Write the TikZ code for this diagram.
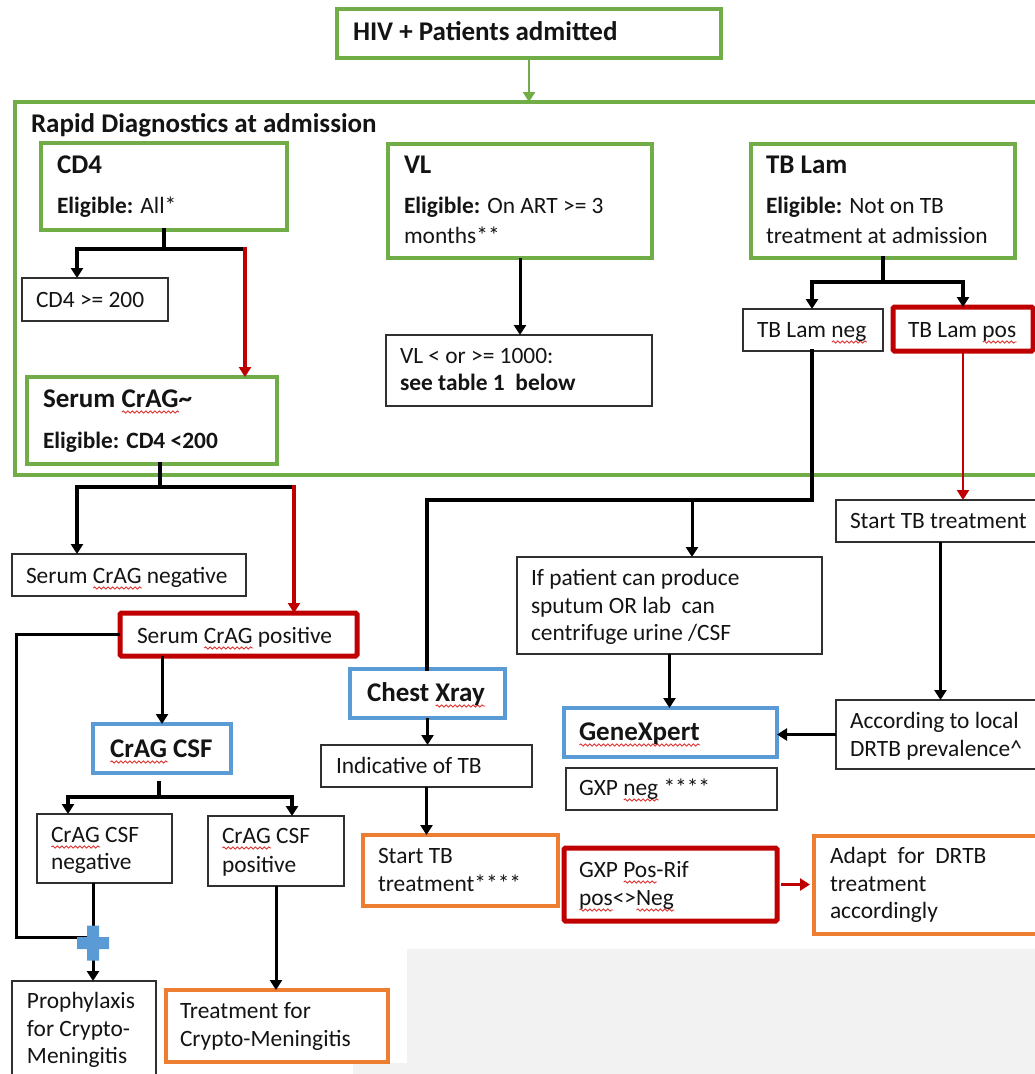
\documentclass[tikz,border=0pt]{standalone}
\usepackage{fontspec}
\setmainfont{Carlito}
\usetikzlibrary{arrows.meta,decorations.pathmorphing}
\definecolor{cgreen}{HTML}{70AD47}
\definecolor{cblue}{HTML}{5B9BD5}
\definecolor{cred}{HTML}{C00000}
\definecolor{cwavy}{HTML}{E03030}
\definecolor{corange}{HTML}{ED7D31}
\definecolor{cgray}{HTML}{F2F2F2}
\definecolor{cdark}{HTML}{303030}
\definecolor{ctext}{HTML}{141414}
\newcommand\bx[6]{\node[#6, minimum width={#4-#2}, minimum height={#5-#3}, anchor=north west] (#1) at (#2,#3) {};}
\newlength\sqw
\newcommand\sq[1]{\settowidth\sqw{#1}\leavevmode\rlap{\tikz[x=1pt,y=1pt,baseline=0pt]{\draw[cwavy, line width=0.9pt, decorate, decoration={snake, amplitude=1.1pt, segment length=4.5pt}] (0,-5) -- (\sqw,-5);}}#1}
\tikzset{
  boxbase/.style={inner sep=0pt, outer sep=0pt},
  gbox/.style={boxbase, draw=cgreen, line width=3.4pt},
  bbox/.style={boxbase, draw=cblue, line width=4.5pt},
  rbox/.style={boxbase, draw=cred, line width=5pt, rounded corners=1.5pt},
  obox/.style={boxbase, draw=corange, line width=4pt},
  kbox/.style={boxbase, draw=cdark, line width=1.8pt},
  txt/.style={anchor=base west, inner sep=0pt, outer sep=0pt, font=\fontsize{23.4}{28}\selectfont, text=ctext},
  hd/.style={txt, font=\bfseries\fontsize{27}{32}\selectfont},
  kline/.style={draw=black, line width=4pt, line cap=rect},
  tline/.style={draw=black, line width=3pt},
  gline/.style={draw=cgreen, line width=2.8pt},
  rline/.style={draw=cred, line width=3.8pt, line cap=rect},
  rthin/.style={draw=cred, line width=2.3pt},
  tip/.style={-{Triangle[length=10pt,width=12pt]}},
  tips/.style={{Triangle[length=10pt,width=12pt]}-{Triangle[length=10pt,width=12pt]}},
}
\begin{document}
\begin{tikzpicture}[x=1pt,y=-1pt]
\clip (0,0) rectangle (1035,1074);
\fill[white] (0,0) rectangle (1035,1074);
\fill[cgray] (407,949) -- (1035,949) -- (1035,1074) -- (353,1074) -- (353,1063) -- (407,1063) -- cycle;

% ---------- boxes ----------
\bx{hiv}{337}{9}{721}{58}{gbox}
\bx{rd}{15}{102}{1045}{475}{gbox}
\bx{cd4}{41}{143}{287}{230}{gbox}
\bx{vl}{388}{144}{652}{258}{gbox}
\bx{tbl}{751}{144}{1015}{258}{gbox}
\bx{cd4hi}{22}{278}{168}{321}{kbox}
\bx{scrag}{27}{377}{277}{464}{gbox}
\bx{vlr}{386}{335}{652}{406}{kbox}
\bx{tbneg}{743}{309}{883}{351}{kbox}
\bx{tbpos}{893}{307}{1033}{351}{rbox}
\bx{scneg}{12}{554}{246}{596}{kbox}
\bx{scpos}{120}{613}{357}{656}{rbox}
\bx{csf}{93}{724}{231}{773}{bbox}
\bx{csfneg}{37}{814}{172}{883}{kbox}
\bx{csfpos}{208}{816}{344}{886}{kbox}
\bx{proph}{12}{981}{156}{1090}{kbox}
\bx{treat}{166}{990}{388}{1062}{obox}
\bx{cxr}{350}{669}{505}{718}{bbox}
\bx{ind}{321}{745}{532}{787}{kbox}
\bx{stbA}{363}{835}{558}{906}{obox}
\bx{ifp}{517}{557}{822}{654}{kbox}
\bx{gx}{564}{708}{777}{757}{bbox}
\bx{gxneg}{566}{768}{777}{810}{kbox}
\bx{gxpos}{564}{848}{777}{921}{rbox}
\bx{adapt}{814}{836}{1045}{934}{obox}
\bx{stbB}{836}{500}{1045}{542}{kbox}
\bx{acc}{836}{700}{1045}{769}{kbox}

% ---------- connectors ----------
\draw[gline, tip] (hiv.south) -- (hiv.south |- rd.north);

\coordinate (c4L) at (77,249);
\coordinate (c4R) at (245,249);
\draw[kline] (cd4.south) -- (cd4.south |- c4L);
\draw[kline, tip] (c4R) -- (c4L) -- (c4L |- cd4hi.north);
\draw[rline, tip] (c4R) -- (c4R |- scrag.north);

\draw[tline, tip] (vl.south) -- (vl.south |- vlr.north);

\coordinate (tbL) at (812,282);
\coordinate (tbR) at (963,282);
\draw[kline] (tbl.south) -- (tbl.south |- tbL);
\draw[kline, tips] (tbL |- tbneg.north) -- (tbL) -- (tbR) -- (tbR |- tbpos.north);

\coordinate (scS) at (160,487);
\coordinate (scL) at (77,487);
\coordinate (scR) at (294,487);
\draw[kline] (scS |- scrag.south) -- (scS);
\draw[kline, tip] (scR) -- (scL) -- (scL |- scneg.north);
\draw[rline, tip] (scR) -- (scR |- scpos.north);

\draw[tline, tip] (csf.north |- scpos.south) -- (csf.north);

\coordinate (plusc) at (93,943);
\coordinate (lpB) at (16,937);
\draw[tline] (scpos.west) -| (lpB) -- (lpB -| plusc);

\coordinate (cfS) at (159,783);
\coordinate (cfL) at (68,797);
\coordinate (cfR) at (292,797);
\draw[kline] (cfS) -- (cfS |- cfL);
\draw[kline, tips] (cfL |- csfneg.north) -- (cfL) -- (cfR) -- (cfR |- csfpos.north);

\draw[tline, tip] (csfneg.south -| plusc) -- (proph.north -| plusc);
\fill[cblue] (plusc) ++(-16,-6) -- ++(10,0) -- ++(0,-11.5) -- ++(12,0) -- ++(0,11.5) -- ++(10,0) -- ++(0,12) -- ++(-10,0) -- ++(0,11.5) -- ++(-12,0) -- ++(0,-11.5) -- ++(-10,0) -- cycle;

\draw[tline, tip] (csfpos.south) -- (csfpos.south |- treat.north);

\coordinate (nA) at (812,500);
\coordinate (nB) at (427,500);
\coordinate (nC) at (692,500);
\draw[kline] (tbneg.south -| nA) -- (nA) -- (nB) -- (nB |- cxr.north);
\draw[tline, tip] (nC) -- (nC |- ifp.north);

\draw[rthin, tip] (tbpos.south) -- (tbpos.south |- stbB.north);
\draw[tline, tip] (stbB.south) -- (stbB.south |- acc.north);
\draw[tline, tip] (acc.west) -- (acc.west -| gx.east);
\draw[tline, tip] (ifp.south) -- (ifp.south |- gx.north);
\draw[tline, tip] (cxr.south) -- (cxr.south |- ind.north);
\draw[tline, tip] (ind.south) -- (ind.south |- stbA.north);
\draw[rthin, tip] ([xshift=4pt]gxpos.east) -- ([xshift=-4pt]gxpos.east -| adapt.west);

% ---------- texts ----------
\node[hd] (hivt) at (353,40) {HIV + Patients admitted};
\node[hd] (rdt) at (31,132) {Rapid Diagnostics at admission};
\node[hd] (cd4h) at (57,173) {CD4};
\node[txt] (cd4e) at (57,213) {\textbf{Eligible:} All*};
\node[hd] (vlh) at (404,173) {VL};
\node[txt] (vle1) at (404,213) {\textbf{Eligible:} On ART >= 3};
\node[txt] (vle2) at (404,243) {months**};
\node[hd] (tblh) at (766,173) {TB Lam};
\node[txt] (tble1) at (766,213) {\textbf{Eligible:} Not on TB};
\node[txt] (tble2) at (766,243) {treatment at admission};
\node[txt] (cd4hit) at (36,307) {CD4 >= 200};
\node[hd] (scragh) at (43,407) {Serum \sq{CrAG}\textasciitilde};
\node[txt] (scrage) at (43,448) {\textbf{Eligible: CD4 <200}};
\node[txt] (vlr1) at (400,363) {VL < or >= 1000:};
\node[txt] (vlr2) at (400,390) {\textbf{see table 1\ \ below}};
\node[txt] (tbnegt) at (757,337) {TB Lam \sq{neg}};
\node[txt] (tbpost) at (908,337) {TB Lam \sq{pos}};
\node[txt] (scnegt) at (26,583) {Serum \sq{CrAG} negative};
\node[txt] (scpost) at (137,643) {Serum \sq{CrAG} positive};
\node[hd] (csft) at (110,757) {\sq{CrAG} CSF};
\node[txt] (csfneg1) at (51,842) {\sq{CrAG} CSF};
\node[txt] (csfneg2) at (51,869) {negative};
\node[txt] (csfpos1) at (222,843) {\sq{CrAG} CSF};
\node[txt] (csfpos2) at (222,872) {positive};
\node[txt] (proph1) at (27,1008) {Prophylaxis};
\node[txt] (proph2) at (27,1036) {for Crypto-};
\node[txt] (proph3) at (27,1063) {Meningitis};
\node[txt] (treat1) at (180,1018) {Treatment for};
\node[txt] (treat2) at (180,1046) {Crypto-Meningitis};
\node[hd] (cxrt) at (367,701) {Chest \sq{Xray}};
\node[txt] (indt) at (336,773) {Indicative of TB};
\node[txt] (stbA1) at (378,863) {Start TB};
\node[txt] (stbA2) at (378,891) {treatment****};
\node[txt] (ifp1) at (531,585) {If patient can produce};
\node[txt] (ifp2) at (531,613) {sputum OR lab\ \ can};
\node[txt] (ifp3) at (531,640) {centrifuge urine /CSF};
\node[hd] (gxt) at (579,740) {\sq{GeneXpert}};
\node[txt] (gxnegt) at (579,795) {GXP \sq{neg} ****};
\node[txt] (gxpos1) at (579,877) {GXP \sq{Pos}-Rif};
\node[txt] (gxpos2) at (579,905) {\sq{pos}<>\sq{Neg}};
\node[txt] (adapt1) at (830,863) {Adapt\ \ for\ \ DRTB};
\node[txt] (adapt2) at (830,891) {treatment};
\node[txt] (adapt3) at (830,918) {accordingly};
\node[txt] (stbBt) at (850,528) {Start TB treatment};
\node[txt] (acc1) at (850,728) {According to local};
\node[txt] (acc2) at (850,756) {DRTB prevalence\textasciicircum};
\end{tikzpicture}
\end{document}
